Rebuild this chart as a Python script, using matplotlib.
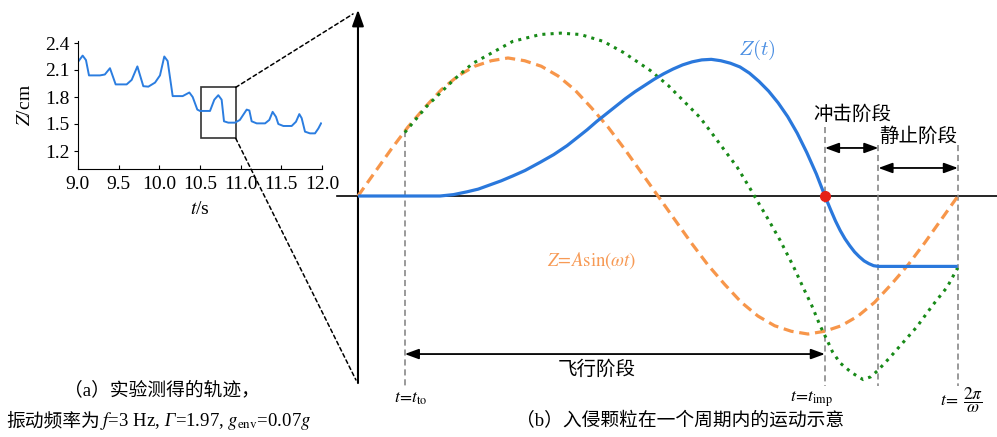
import matplotlib
matplotlib.use('Agg')
import numpy as np
import matplotlib.pyplot as plt
from matplotlib.patches import Rectangle, ConnectionPatch

plt.rcParams['font.family'] = ['Liberation Serif', 'Noto Sans CJK SC']
plt.rcParams['mathtext.fontset'] = 'stix'

# (a) measured trajectory, t in s, Z in cm
t_exp = [9.0, 9.057, 9.098, 9.135, 9.19, 9.27, 9.33, 9.393, 9.463, 9.598, 9.66, 9.73,
         9.803, 9.865, 9.947, 10.008, 10.061, 10.102, 10.164, 10.287, 10.369, 10.41,
         10.467, 10.5, 10.623, 10.676, 10.725, 10.766, 10.795, 10.848, 10.93, 10.99,
         11.074, 11.107, 11.135, 11.197, 11.3, 11.352, 11.393, 11.434, 11.463, 11.525,
         11.627, 11.68, 11.721, 11.75, 11.791, 11.852, 11.914, 11.955, 11.988]
z_exp = [2.19, 2.26, 2.21, 2.04, 2.04, 2.04, 2.05, 2.12, 1.94, 1.94, 1.99, 2.14,
         1.92, 1.915, 1.96, 2.04, 2.25, 2.20, 1.81, 1.81, 1.85, 1.80,
         1.66, 1.645, 1.645, 1.77, 1.82, 1.77, 1.53, 1.515, 1.515, 1.545,
         1.66, 1.65, 1.53, 1.507, 1.507, 1.545, 1.635, 1.58, 1.50, 1.478,
         1.478, 1.525, 1.61, 1.565, 1.415, 1.396, 1.396, 1.45, 1.507]
zoom_box = (10.508, 1.341, 0.431, 0.566)   # t0, z0, width, height

# (b) one period, phase in rad, Z in units of A
phase_deg = list(range(0, 361, 10))
z_plate = [0, .17, .34, .50, .64, .77, .87, .94, .98, 1.0, .98, .94, .87, .77, .64, .50, .34, .17,
           0, -.17, -.34, -.50, -.64, -.77, -.87, -.94, -.98, -1.0, -.98, -.94, -.87, -.77, -.64,
           -.50, -.34, -.17, 0]

t_bed = [0.49, 0.72, 1.00, 1.20, 1.41, 1.62, 1.91, 2.12, 2.33, 2.57, 2.78, 3.06, 3.25, 3.58,
         3.69, 3.84, 3.97, 4.11, 4.16, 4.28, 4.42, 4.56, 4.66, 4.75, 4.84, 4.91, 4.97, 5.05,
         5.17, 5.29, 5.37, 5.45, 5.57, 5.71, 5.85, 6.02, 6.17, 6.28]
z_bed = [0.46, 0.65, 0.84, 0.96, 1.04, 1.12, 1.17, 1.18, 1.17, 1.12, 1.04, 0.91, 0.80, 0.57,
         0.47, 0.33, 0.21, 0.05, -0.01, -0.15, -0.32, -0.51, -0.66, -0.79, -0.94, -1.04, -1.13,
         -1.21, -1.28, -1.33, -1.31, -1.26, -1.17, -1.06, -0.95, -0.79, -0.66, -0.52]

t_int = [0, 0.49, 0.86, 1.0, 1.14, 1.26, 1.38, 1.5, 1.62, 1.75, 1.91, 2.05, 2.19, 2.3, 2.4,
         2.5, 2.6, 2.7, 2.8, 2.9, 3.0, 3.1, 3.2, 3.3, 3.4, 3.5, 3.6, 3.7, 3.8, 3.9, 4.0,
         4.1, 4.2, 4.3, 4.4, 4.5, 4.6, 4.7, 4.8, 4.89, 4.95, 5.0, 5.05, 5.1, 5.15, 5.2,
         5.25, 5.3, 5.35, 5.4, 5.45, 6.28]
z_int = [0, 0, 0, 0.01, 0.03, 0.05, 0.08, 0.11, 0.145, 0.185, 0.245, 0.30, 0.365, 0.425, 0.48,
         0.54, 0.595, 0.65, 0.705, 0.755, 0.80, 0.845, 0.885, 0.92, 0.95, 0.972, 0.986, 0.99,
         0.98, 0.962, 0.935, 0.89, 0.83, 0.76, 0.675, 0.575, 0.455, 0.315, 0.16, 0, -0.10,
         -0.18, -0.25, -0.31, -0.36, -0.405, -0.44, -0.47, -0.49, -0.505, -0.51, -0.51]

t_to, t_imp, t_rest, t_end = 0.49, 4.89, 5.45, 2 * np.pi

fig = plt.figure(figsize=(9.97, 4.37), dpi=100)

# ---- (a)
ax1 = fig.add_axes([78 / 997, 1 - 169 / 437, 244 / 997, 127.8 / 437])
ax1.plot(t_exp, z_exp, color='#2b7de0', lw=1.4)
ax1.add_patch(Rectangle(zoom_box[:2], zoom_box[2], zoom_box[3], fill=False,
                        edgecolor='#333333', lw=1.2))
ax1.set_xlim(9, 12)
ax1.set_ylim(1.0, 2.42)
ax1.set_xticks([9.0, 9.5, 10.0, 10.5, 11.0, 11.5, 12.0])
ax1.set_yticks([1.2, 1.5, 1.8, 2.1, 2.4])
ax1.spines[['top', 'right']].set_visible(False)
ax1.tick_params(axis='x', direction='in', length=3, labelsize=14, pad=5)
ax1.tick_params(axis='y', direction='out', length=3, labelsize=14, pad=3)
ax1.set_xlabel(r'$t$/s', fontsize=14, labelpad=6)
ax1.set_ylabel(r'$Z$/cm', fontsize=14, labelpad=8)

# ---- (b)
ax2 = fig.add_axes([330 / 997, 0, 667 / 997, 1])
ax2.set_xlim(-0.293, 6.692)
ax2.set_ylim(-1.746, 1.420)
ax2.axis('off')

ax2.plot([-0.22, 6.69], [0, 0], color='black', lw=1.2, clip_on=False)
ax2.annotate('', xy=(0, 1.35), xytext=(0, -1.355),
             arrowprops=dict(arrowstyle='-|>,head_length=0.7,head_width=0.25',
                             color='black', lw=1.5, mutation_scale=14,
                             shrinkA=0, shrinkB=0))

ax2.plot(np.deg2rad(phase_deg), z_plate, color='#f7964a', lw=2.3,
         linestyle=(0, (3.2, 1.8)), zorder=3)
ax2.plot(t_bed, z_bed, color='#188a18', lw=2.2, linestyle=(0, (1, 1.7)), zorder=4)
ax2.plot(t_int, z_int, color='#2a78dc', lw=2.3, zorder=5, solid_capstyle='butt',
         solid_joinstyle='round')
ax2.plot([t_imp], [0], 'o', color='#e62117', ms=7, zorder=6)

for t, top in [(t_to, 0.47), (t_imp, 0.50), (t_rest, 0.37), (t_end, 0.37)]:
    ax2.plot([t, t], [top, -1.377], color='#7f7f7f', lw=1.1,
             linestyle=(0, (4, 2.5)), zorder=2)

arrow = dict(arrowstyle='<|-|>,head_length=0.6,head_width=0.22', color='black',
             lw=1.3, mutation_scale=14, shrinkA=0, shrinkB=0)
ax2.annotate('', xy=(t_imp, -1.145), xytext=(t_to, -1.145), arrowprops=arrow)
ax2.annotate('', xy=(t_rest, 0.348), xytext=(t_imp, 0.348), arrowprops=arrow)
ax2.annotate('', xy=(t_end, 0.203), xytext=(t_rest, 0.203), arrowprops=arrow)

ax2.text(2.503, -1.261, '飞行阶段', fontsize=14, ha='center', va='center')
ax2.text(5.172, 0.587, '冲击阶段', fontsize=14, ha='center', va='center')
ax2.text(5.864, 0.428, '静止阶段', fontsize=14, ha='center', va='center')

ax2.text(4.178, 1.058, r'$Z(t)$', fontsize=15, color='#4a8ee2', ha='center',
         va='center', math_fontfamily='cm')
ax2.text(2.450, -0.464, r'$Z\!=\!A\mathrm{sin}(\omega t)$', fontsize=13.5,
         color='#f79a55', ha='center', va='center')

ax2.text(0.555, -1.47, r'$t\!=\!t_{\mathrm{to}}$', fontsize=12.5, ha='center', va='center')
ax2.text(4.754, -1.47, r'$t\!=\!t_{\mathrm{imp}}$', fontsize=12.5, ha='center', va='center')
ax2.text(6.325, -1.478, r'$t\!=\;\dfrac{2\pi}{\omega}$', fontsize=12.5, ha='center',
         va='center')

# links between the zoom box and the sketch
for za, zb, tb in [(zoom_box[1] + zoom_box[3], 1.319, -0.052), (zoom_box[1], -1.333, -0.021)]:
    con = ConnectionPatch(xyA=(zoom_box[0] + zoom_box[2], za), coordsA=ax1.transData,
                          xyB=(tb, zb), coordsB=ax2.transData,
                          color='black', lw=1.1, linestyle=(0, (2.5, 2)))
    fig.add_artist(con)

# captions
fig.text(162 / 997, 1 - 390 / 437, '（a）实验测得的轨迹，', fontsize=13.5,
         ha='center', va='center')
y_cap = 1 - 426 / 437
fig.text(100 / 997, y_cap, '振动频率为', fontsize=13.5, ha='right', va='baseline')
renderer = fig.canvas.get_renderer()
x = 100 / 997
for s, style in [(r'$f$=3 Hz,', 'normal'), (' Γ', 'italic'),
                 (r'=1.97, $g_{\mathrm{env}}$=0.07$g$', 'normal')]:
    txt = fig.text(x, y_cap, s, fontsize=13.5, style=style, ha='left', va='baseline')
    x += txt.get_window_extent(renderer).width / fig.bbox.width
fig.text(680 / 997, 1 - 421 / 437, '（b）入侵颗粒在一个周期内的运动示意', fontsize=13.5,
         ha='center', va='center')

fig.savefig('out.png', dpi=100)
